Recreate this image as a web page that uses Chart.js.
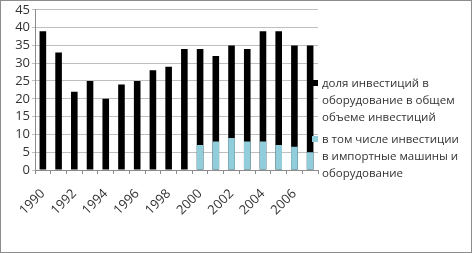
<!DOCTYPE html>
<html>
<head>
<meta charset="utf-8">
<script src="https://cdn.jsdelivr.net/npm/chart.js@4/dist/chart.umd.min.js"></script>
<style>
  html, body { margin: 0; padding: 0; background: #fff; }
  #wrap { position: relative; width: 472px; height: 253px; }
  #frame { position: absolute; left: 0; top: 0; width: 470px; height: 251px; border: 1px solid #8c8c8c; pointer-events: none; }
  #legend { position: absolute; left: 311px; top: 74px; font-family: "Open Sans", sans-serif; font-size: 11.5px; line-height: 17px; color: #333; }
  .item { position: relative; padding-left: 11px; margin-bottom: 5px; }
  .box { position: absolute; left: 1px; top: 6px; width: 6px; height: 6px; }
</style>
</head>
<body>
<div id="wrap">
  <canvas id="chart" width="472" height="253"></canvas>
  <div id="legend"></div>
  <div id="frame"></div>
</div>
<script>
// годы и доли (%)
const years = ['1990', '1991', '1992', '1993', '1994', '1995', '1996', '1997', '1998',
  '1999', '2000', '2001', '2002', '2003', '2004', '2005', '2006', '2007'];
const equipmentShare = [39, 33, 22, 25, 20, 24, 25, 28, 29, 34, 34, 32, 35, 34, 39, 39, 35, 35];
const importShare = [null, null, null, null, null, null, null, null, null, null, 7, 8, 9, 8, 8, 7, 6.5, 5];
const seriesNames = [
  ['доля инвестиций в', 'оборудование в общем', 'объеме инвестиций'],
  ['в том числе инвестиции', 'в импортные машины и', 'оборудование']
];
const yTicks = [0, 5, 10, 15, 20, 25, 30, 35, 40, 45];

const colors = ['#000000', '#92cddc'];
const font = { family: '"Open Sans", sans-serif', size: 13 };

const ctx = document.getElementById('chart').getContext('2d');
new Chart(ctx, {
  type: 'bar',
  data: {
    labels: years,
    datasets: [
      { label: seriesNames[0].join(' '), data: equipmentShare, backgroundColor: colors[0], order: 2,
        barPercentage: 0.42, categoryPercentage: 1 },
      { label: seriesNames[1].join(' '), data: importShare, backgroundColor: colors[1], order: 1,
        barPercentage: 0.42, categoryPercentage: 1 }
    ]
  },
  options: {
    responsive: false,
    animation: false,
    layout: { padding: { top: 1, right: 154, bottom: 0, left: 0 } },
    plugins: { legend: { display: false }, tooltip: { enabled: false } },
    scales: {
      x: {
        stacked: true,
        grid: { offset: true, drawOnChartArea: false, tickLength: 4, color: '#8c8c8c' },
        border: { color: '#8c8c8c' },
        ticks: {
          autoSkip: false, maxRotation: 45, minRotation: 45, color: '#333', font: font, padding: 12,
          callback: (v, i) => (i % 2 === 0 ? years[i] : '')
        },
        afterFit: s => { s.height = 83; }
      },
      y: {
        stacked: false,
        min: 0, max: 45,
        afterBuildTicks: s => { s.ticks = yTicks.map(v => ({ value: v })); },
        grid: { color: '#bfbfbf', tickLength: 3 },
        border: { color: '#8c8c8c' },
        ticks: { autoSkip: false, color: '#333', font: font, padding: 2 },
        afterFit: s => { s.width = 35; }
      }
    }
  }
});

// легенда справа, многострочная
const legend = document.getElementById('legend');
seriesNames.forEach((lines, i) => {
  const item = document.createElement('div');
  item.className = 'item';
  item.innerHTML = '<span class="box" style="background:' + colors[i] + '"></span>' + lines.join('<br>');
  legend.appendChild(item);
});
</script>
</body>
</html>
